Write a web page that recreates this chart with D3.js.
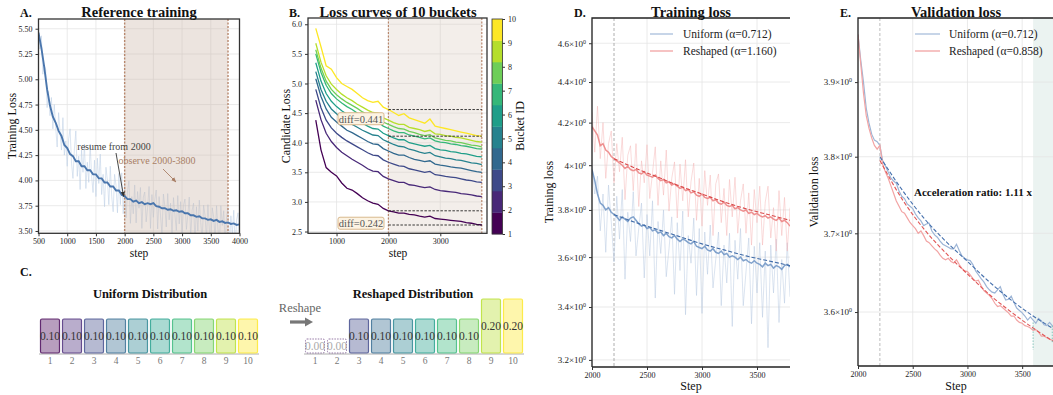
<!DOCTYPE html>
<html><head><meta charset="utf-8">
<script src="https://cdn.jsdelivr.net/npm/d3@7"></script>
<style>body{margin:0;background:#fff}svg{font-family:"Liberation Serif","Times New Roman",serif}</style>
</head><body><svg id="c" width="1053" height="395"></svg>
<script>
// ---------- DATA ----------
// Panel A: reference training
const aSteps = d3.range(500, 4001, 50);
const aSmooth = [5.46,5.31,5.12,4.90,4.74,4.63,4.57,4.49,4.44,4.35,4.32,4.26,4.24,4.19,4.19,4.14,4.14,4.10,4.10,4.06,4.06,4.02,4.02,3.98,3.98,3.94,3.94,3.90,3.90,3.855,3.845,3.815,3.815,3.79,3.80,3.775,3.785,3.765,3.775,3.765,3.775,3.745,3.74,3.725,3.725,3.71,3.715,3.70,3.705,3.69,3.695,3.675,3.675,3.655,3.655,3.64,3.645,3.625,3.625,3.61,3.615,3.60,3.61,3.59,3.595,3.58,3.585,3.57,3.575,3.56,3.565];
const aRawSteps = d3.range(500, 4001, 25);
const aRaw = [5.51,5.30,5.43,5.05,5.14,5.10,4.72,4.88,4.64,4.82,
4.51,4.75,4.52,4.33,4.67,4.48,4.30,4.62,4.25,4.39,
4.14,4.41,4.51,4.17,4.02,4.31,4.49,4.04,4.24,3.91,
4.30,4.08,4.36,3.92,4.18,3.98,4.36,4.04,3.88,4.20,
3.84,4.22,3.97,4.26,3.86,4.06,3.74,4.13,4.00,3.76,
4.14,3.84,3.69,4.06,3.95,3.68,4.07,3.76,4.075,3.67,
3.965,3.63,3.895,3.995,3.575,3.84,3.67,3.955,3.58,3.89,
3.725,3.93,3.525,3.835,3.885,3.59,3.735,3.94,3.525,3.86,
3.635,3.81,3.905,3.52,3.84,3.65,3.465,3.865,3.745,3.54,
3.87,3.61,3.775,3.46,3.83,3.66,3.505,3.85,3.57,3.79,
3.455,3.755,3.815,3.515,3.655,3.835,3.435,3.705,3.775,3.39,
3.74,3.50,3.805,3.585,3.405,3.755,3.655,3.42,3.76,3.51,
3.365,3.73,3.64,3.425,3.75,3.52,3.37,3.75,3.555,3.70,
3.38,3.64,3.735,3.34,3.65,3.47,3.705,3.35,3.61,3.68,
3.415];
const aWindow = [2000, 3800];
const aTexts = ["resume from 2000", "observe 2000-3800"];

// Panel B: loss curves of 10 buckets
const bSteps = d3.range(600, 3801, 100);
const bucketIds = [1,2,3,4,5,6,7,8,9,10];
const b1 = [4.38,3.88,3.58,3.50,3.44,3.32,3.23,3.20,3.14,3.07,3.02,2.98,2.96,2.89,2.85,2.83,2.81,2.81,2.79,2.78,2.76,2.745,2.76,2.72,2.71,2.70,2.69,2.68,2.67,2.65,2.64,2.62,2.61];
const b2 = [4.72,4.39,4.16,4.02,3.92,3.84,3.78,3.72,3.67,3.62,3.56,3.52,3.51,3.43,3.39,3.36,3.33,3.33,3.29,3.28,3.26,3.24,3.255,3.21,3.19,3.18,3.17,3.16,3.14,3.13,3.12,3.10,3.09];
const b3 = [4.90,4.59,4.38,4.25,4.16,4.09,4.03,3.98,3.93,3.88,3.83,3.79,3.78,3.71,3.67,3.64,3.61,3.60,3.56,3.54,3.52,3.50,3.515,3.46,3.45,3.43,3.42,3.41,3.39,3.37,3.36,3.34,3.33];
const b4 = [5.08,4.78,4.57,4.43,4.35,4.28,4.21,4.17,4.12,4.07,4.02,3.98,3.97,3.90,3.86,3.82,3.79,3.79,3.75,3.72,3.70,3.68,3.695,3.64,3.62,3.61,3.59,3.58,3.57,3.55,3.53,3.51,3.50];
const b5 = [5.20,4.90,4.70,4.57,4.49,4.41,4.36,4.31,4.26,4.21,4.17,4.13,4.12,4.05,4.01,3.97,3.94,3.93,3.89,3.87,3.84,3.82,3.835,3.78,3.76,3.74,3.73,3.71,3.70,3.68,3.66,3.65,3.63];
const b6 = [5.35,5.04,4.83,4.70,4.61,4.54,4.48,4.43,4.38,4.33,4.28,4.24,4.23,4.16,4.12,4.08,4.05,4.05,4.00,3.98,3.96,3.94,3.955,3.90,3.88,3.87,3.85,3.84,3.82,3.81,3.79,3.77,3.76];
const b7 = [5.50,5.19,4.97,4.83,4.74,4.67,4.61,4.56,4.50,4.45,4.40,4.37,4.35,4.28,4.24,4.20,4.17,4.17,4.13,4.11,4.09,4.065,4.08,4.03,4.01,4.00,3.98,3.97,3.95,3.94,3.92,3.90,3.89];
const b8 = [5.57,5.26,5.04,4.90,4.81,4.74,4.68,4.63,4.58,4.52,4.47,4.44,4.42,4.35,4.31,4.27,4.24,4.23,4.19,4.17,4.14,4.12,4.135,4.08,4.06,4.04,4.03,4.01,4.00,3.98,3.96,3.95,3.93];
const b9 = [5.68,5.36,5.13,4.99,4.90,4.82,4.76,4.71,4.65,4.60,4.55,4.51,4.50,4.42,4.38,4.34,4.31,4.31,4.26,4.24,4.22,4.19,4.21,4.15,4.14,4.12,4.11,4.09,4.08,4.06,4.04,4.02,4.01];
const b10 = [5.93,5.62,5.30,5.24,5.10,5.00,4.95,4.90,4.83,4.76,4.71,4.68,4.70,4.60,4.56,4.51,4.46,4.49,4.42,4.39,4.36,4.33,4.40,4.28,4.26,4.24,4.22,4.20,4.18,4.16,4.14,4.12,4.11];
const bDiffLabels = ["diff=0.441", "diff=0.242"];

// Panel C: distributions
const cBuckets = ["1","2","3","4","5","6","7","8","9","10"];
const uniformDist = [0.10,0.10,0.10,0.10,0.10,0.10,0.10,0.10,0.10,0.10];
const reshapedDist = [0.00,0.00,0.10,0.10,0.10,0.10,0.10,0.10,0.20,0.20];

// Panel D: training loss
const dSteps = d3.range(2000, 3801, 25);
const uRawD = [4.00,3.87,3.95,3.71,3.87,3.62,3.91,3.75,
3.58,3.86,3.675,3.89,3.51,3.79,3.665,3.88,
3.605,3.72,3.83,3.515,3.78,3.605,3.84,3.435,
3.75,3.615,3.80,3.52,3.635,3.77,3.45,3.745,
3.545,3.795,3.37,3.69,3.575,3.765,3.445,3.72,
3.375,3.705,3.53,3.735,3.475,3.59,3.705,3.405,
3.65,3.495,3.70,3.325,3.67,3.51,3.72,3.405,
3.54,3.68,3.335,3.645,3.455,3.66,3.36,3.625,
3.245,3.65,3.455,3.675,3.34,3.59,3.415,3.66,
3.44];
const uSmD = [3.98,3.93,3.87,3.83,3.82,3.80,3.81,3.79,
3.78,3.77,3.755,3.77,3.76,3.75,3.765,3.77,
3.755,3.74,3.73,3.735,3.72,3.725,3.71,3.715,
3.70,3.705,3.69,3.70,3.685,3.68,3.69,3.675,
3.665,3.675,3.67,3.66,3.655,3.665,3.645,3.64,
3.635,3.645,3.63,3.625,3.635,3.62,3.615,3.625,
3.61,3.615,3.60,3.605,3.60,3.59,3.60,3.585,
3.59,3.58,3.575,3.585,3.575,3.57,3.56,3.575,
3.565,3.57,3.555,3.565,3.56,3.55,3.565,3.57,
3.56];
const rRawD = [4.25,4.06,4.28,4.03,4.20,3.94,4.10,4.16,
3.92,4.10,3.97,4.13,3.845,4.045,4.09,3.885,
4.10,3.815,4.02,3.92,4.095,3.85,3.965,4.085,
3.82,4.02,3.865,4.07,3.795,3.94,4.015,3.765,
4.005,3.84,4.025,3.77,3.925,4.01,3.755,3.94,
3.73,3.975,3.82,3.955,3.69,3.915,3.96,3.745,
3.895,3.69,3.935,3.77,3.945,3.70,3.84,3.915,
3.70,3.875,3.65,3.89,3.745,3.905,3.65,3.835,
3.905,3.68,3.81,3.625,3.885,3.69,3.855,3.625,
3.81];
const rSmD = [4.18,4.16,4.14,4.09,4.10,4.07,4.06,4.04,
4.03,4.02,4.01,4.00,3.985,3.995,3.98,3.975,
3.98,3.965,3.96,3.97,3.955,3.95,3.945,3.955,
3.94,3.93,3.935,3.92,3.925,3.91,3.915,3.905,
3.895,3.90,3.885,3.89,3.875,3.88,3.865,3.86,
3.87,3.855,3.85,3.855,3.84,3.845,3.83,3.825,
3.835,3.82,3.815,3.82,3.805,3.81,3.80,3.795,
3.80,3.785,3.79,3.78,3.785,3.775,3.77,3.775,
3.765,3.77,3.76,3.755,3.765,3.75,3.755,3.745,
3.73];
const fitSteps = [2200,2400,2600,2800,3000,3200,3400,3600,3800];
const uFitD = [3.78,3.745,3.715,3.685,3.655,3.63,3.605,3.585,3.565];
const rFitD = [4.03,3.985,3.945,3.905,3.87,3.835,3.805,3.78,3.755];
const legendD = ["Uniform (α=0.712)", "Reshaped (α=1.160)"];

// Panel E: validation loss
const uValE = [3.965,3.93,3.90,3.865,3.845,3.83,3.822,3.82,
3.815,3.795,3.788,3.78,3.772,3.768,3.765,3.755,
3.748,3.745,3.738,3.735,3.732,3.725,3.72,3.716,
3.71,3.712,3.713,3.703,3.698,3.695,3.69,3.686,
3.684,3.682,3.68,3.68,3.686,3.678,3.671,3.668,
3.666,3.665,3.66,3.652,3.647,3.642,3.638,3.632,
3.628,3.625,3.624,3.628,3.632,3.622,3.615,3.616,
3.62,3.612,3.605,3.602,3.599,3.595,3.59,3.594,
3.59,3.586,3.592,3.589,3.584,3.583,3.587,3.583,
3.578];
const rValE = [3.965,3.925,3.885,3.855,3.838,3.825,3.815,3.81,
3.815,3.79,3.78,3.772,3.762,3.752,3.742,3.735,
3.728,3.726,3.72,3.714,3.71,3.706,3.70,3.703,
3.697,3.69,3.688,3.684,3.68,3.677,3.672,3.668,
3.666,3.668,3.664,3.662,3.666,3.66,3.655,3.652,
3.651,3.647,3.642,3.639,3.64,3.633,3.627,3.624,
3.621,3.617,3.611,3.607,3.608,3.605,3.602,3.599,
3.595,3.595,3.59,3.587,3.586,3.583,3.582,3.58,
3.577,3.578,3.575,3.57,3.57,3.568,3.566,3.565,
3.562];
const uFitE = [3.80,3.757,3.72,3.69,3.664,3.638,3.615,3.595,3.578];
const rFitE = [3.795,3.745,3.706,3.675,3.648,3.622,3.60,3.58,3.562];
const legendE = ["Uniform (α=0.712)", "Reshaped (α=0.858)"];
const accelText = "Acceleration ratio: 1.11 x";

// ---------- DRAWING ----------
const svg = d3.select("#c");
const defs = svg.append("defs");
function arrowMarker(id, color) {
  defs.append("marker").attr("id", id).attr("viewBox", "0 0 10 10").attr("refX", 9).attr("refY", 5)
    .attr("markerWidth", 6).attr("markerHeight", 6).attr("orient", "auto")
    .append("path").attr("d", "M0,1 L10,5 L0,9 z").attr("fill", color);
}
arrowMarker("arrK", "#333");
arrowMarker("arrB", "#a97f66");
function clip(id, x0, y0, x1, y1) {
  defs.append("clipPath").attr("id", id).append("rect").attr("x", x0).attr("y", y0).attr("width", x1 - x0).attr("height", y1 - y0);
}
function gridLines(xs, ys, xv, yv) {
  const [x0, x1] = xs.range(), [yb, yt] = ys.range();
  const g = svg.append("g").attr("stroke", "#e4e4e4").attr("stroke-width", 0.8);
  xv.forEach(v => g.append("line").attr("x1", xs(v)).attr("x2", xs(v)).attr("y1", yb).attr("y2", yt));
  yv.forEach(v => g.append("line").attr("y1", ys(v)).attr("y2", ys(v)).attr("x1", x0).attr("x2", x1));
}
function styleAxis(g, fs) {
  g.select(".domain").remove();
  g.selectAll("text").attr("font-size", fs).attr("fill", "#222").attr("font-family", '"Liberation Serif",serif');
  g.selectAll("line").attr("stroke", "#333");
  return g;
}
function text(x, y, s, opts = {}) {
  const t = svg.append("text").attr("x", x).attr("y", y).text(s)
    .attr("font-size", opts.size || 12).attr("fill", opts.fill || "#111")
    .attr("text-anchor", opts.anchor || "middle").attr("font-weight", opts.weight || "normal");
  if (opts.rotate) t.attr("transform", `rotate(${opts.rotate},${x},${y})`);
  return t;
}
const lineGen = (xs, ys, steps) => d3.line().x((d, i) => xs(steps[i])).y(d => ys(d));
const bottomAxis = (xs, vals) => d3.axisBottom(xs).tickValues(vals).tickSize(3).tickPadding(2).tickFormat(d3.format("d"));

// ===== Panel A =====
const xA = d3.scaleLinear().domain([500, 4000]).range([38.5, 239.5]);
const yA = d3.scaleLinear().domain([3.477, 5.596]).range([233.3, 19]);
gridLines(xA, yA, d3.range(500, 4001, 500), d3.range(3.5, 5.51, 0.25));
clip("clipA", 38.5, 19, 239.5, 233.3);
const gA = svg.append("g").attr("clip-path", "url(#clipA)");
gA.append("path").attr("d", lineGen(xA, yA, aRawSteps)(aRaw)).attr("fill", "none").attr("stroke", "#bccfe5").attr("stroke-width", 0.9).attr("opacity", 0.6);
gA.append("rect").attr("x", xA(aWindow[0])).attr("width", xA(aWindow[1]) - xA(aWindow[0])).attr("y", 19).attr("height", 214.3)
  .attr("fill", "#c9b5a5").attr("opacity", 0.36);
aWindow.forEach(v => gA.append("line").attr("x1", xA(v)).attr("x2", xA(v)).attr("y1", 19).attr("y2", 233.3)
  .attr("stroke", "#b8876c").attr("stroke-width", 1.4).attr("stroke-dasharray", "2,1.5"));
gA.append("path").attr("d", lineGen(xA, yA, aSteps)(aSmooth)).attr("fill", "none").attr("stroke", "#4a76ad").attr("stroke-width", 1.9);
svg.append("rect").attr("x", 38.5).attr("y", 19).attr("width", 201).attr("height", 214.3).attr("fill", "none").attr("stroke", "#333").attr("stroke-width", 1.3);
styleAxis(svg.append("g").attr("transform", "translate(0,233.3)").call(bottomAxis(xA, d3.range(500, 4001, 500))), 8);
styleAxis(svg.append("g").attr("transform", "translate(38.5,0)").call(d3.axisLeft(yA).tickValues(d3.range(3.5, 5.51, 0.25)).tickSize(3).tickFormat(d3.format(".2f"))), 8);
text(20, 17, "A.", { size: 12, weight: "bold", anchor: "start" });
text(139, 17, "Reference training", { size: 14.5, weight: "bold" });
text(139, 257, "step", { size: 11.5 });
text(16, 126, "Training Loss", { size: 12, rotate: -90 });
text(114, 150, aTexts[0], { size: 10, fill: "#444" });
svg.append("line").attr("x1", 116).attr("y1", 153).attr("x2", xA(2000) - 1).attr("y2", yA(3.84)).attr("stroke", "#333").attr("stroke-width", 0.9).attr("marker-end", "url(#arrK)");
text(157, 164, aTexts[1], { size: 10, fill: "#a97f66" });
svg.append("line").attr("x1", 163).attr("y1", 169).attr("x2", 176).attr("y2", 182).attr("stroke", "#a97f66").attr("stroke-width", 0.9).attr("marker-end", "url(#arrB)");

// ===== Panel B =====
const xB = d3.scaleLinear().domain([450, 3900]).range([308, 487]);
const yB = d3.scaleLinear().domain([2.47, 6.106]).range([233.3, 18]);
gridLines(xB, yB, [1000, 2000, 3000], d3.range(2.5, 6.01, 0.5));
clip("clipB", 308, 18, 487, 233.3);
const gB = svg.append("g").attr("clip-path", "url(#clipB)");
gB.append("rect").attr("x", xB(2000)).attr("width", xB(3800) - xB(2000)).attr("y", 18).attr("height", 215.3).attr("fill", "#d8c8b8").attr("opacity", 0.3);
[2000, 3800].forEach(v => gB.append("line").attr("x1", xB(v)).attr("x2", xB(v)).attr("y1", 18).attr("y2", 233.3)
  .attr("stroke", "#b8876c").attr("stroke-width", 1.2).attr("stroke-dasharray", "2,1.5"));
const bSeries = [b1, b2, b3, b4, b5, b6, b7, b8, b9, b10];
const vcol = i => d3.interpolateViridis(i / 9);
bSeries.forEach((s, i) => gB.append("path").attr("d", lineGen(xB, yB, bSteps)(s)).attr("fill", "none").attr("stroke", vcol(i)).attr("stroke-width", 1.3));
[b10, b1].forEach(s => {
  const v0 = s[bSteps.indexOf(2000)], v1 = s[s.length - 1];
  [v0, v1].forEach(v => gB.append("line").attr("x1", xB(2000)).attr("x2", xB(3800)).attr("y1", yB(v)).attr("y2", yB(v))
    .attr("stroke", "#222").attr("stroke-width", 0.9).attr("stroke-dasharray", "2.5,1.5"));
});
svg.append("rect").attr("x", 308).attr("y", 18).attr("width", 179).attr("height", 215.3).attr("fill", "none").attr("stroke", "#333").attr("stroke-width", 1.3);
styleAxis(svg.append("g").attr("transform", "translate(0,233.3)").call(bottomAxis(xB, [1000, 2000, 3000])), 8);
styleAxis(svg.append("g").attr("transform", "translate(308,0)").call(d3.axisLeft(yB).tickValues(d3.range(2.5, 6.01, 0.5)).tickSize(3).tickFormat(d3.format(".1f"))), 8);
[[bDiffLabels[0], (b10[bSteps.indexOf(2000)] + b10[b10.length - 1]) / 2 + 0.07], [bDiffLabels[1], (b1[bSteps.indexOf(2000)] + b1[b1.length - 1]) / 2 - 0.09]].forEach(([lab, v]) => {
  const cy = yB(v);
  svg.append("rect").attr("x", 338).attr("y", cy - 6).attr("width", 46).attr("height", 12).attr("rx", 2)
    .attr("fill", "#fcf3e3").attr("stroke", "#d9b98e").attr("stroke-width", 1);
  text(361, cy + 3.8, lab, { size: 10.5, fill: "#555" });
});
const yCb = d3.scaleLinear().domain([1, 10]).range([234, 19]);
const bandH = (234 - 19) / 10;
bucketIds.forEach((b, i) => svg.append("rect").attr("x", 492).attr("width", 10.5).attr("y", 234 - (i + 1) * bandH).attr("height", bandH + 0.3).attr("fill", vcol(i)));
svg.append("rect").attr("x", 492).attr("y", 19).attr("width", 10.5).attr("height", 215).attr("fill", "none").attr("stroke", "#333").attr("stroke-width", 0.8);
styleAxis(svg.append("g").attr("transform", "translate(502.5,0)").call(d3.axisRight(yCb).tickValues(bucketIds).tickSize(2.5).tickFormat(d3.format("d"))), 8);
text(524, 126, "Bucket ID", { size: 12, rotate: -90 });
text(289, 17, "B.", { size: 12, weight: "bold", anchor: "start" });
text(398, 17, "Loss curves of 10 buckets", { size: 14.5, weight: "bold" });
text(398, 257, "step", { size: 11.5 });
text(290, 126, "Candidate Loss", { size: 12, rotate: -90 });

// ===== Panel C =====
text(20, 276, "C.", { size: 12, weight: "bold", anchor: "start" });
const hC = d3.scaleLinear().domain([0, 0.2]).range([339, 299]);
const baseC = 353;
function distPanel(vals, x0, x1, title, tx) {
  const xs = d3.scaleBand().domain(cBuckets).range([x0, x1]).paddingInner(0.136).paddingOuter(0.068);
  text(tx, 298, title, { size: 12.5, weight: "bold" });
  svg.append("line").attr("x1", x0).attr("x2", x1).attr("y1", baseC + 1).attr("y2", baseC + 1).attr("stroke", "#c8c8c8").attr("stroke-width", 1.5);
  vals.forEach((v, i) => {
    const x = xs(cBuckets[i]), w = xs.bandwidth(), y = hC(v);
    if (v === 0) {
      svg.append("rect").attr("x", x).attr("y", y).attr("width", w).attr("height", baseC - y).attr("rx", 1.5)
        .attr("fill", "#fff").attr("stroke", "#8a6a9c").attr("stroke-width", 0.9).attr("stroke-dasharray", "1.5,1.2");
      text(x + w / 2, (y + baseC) / 2 + 4, d3.format(".2f")(v), { size: 11.5, fill: "#aaa" });
    } else {
      const c = vcol(i);
      svg.append("rect").attr("x", x).attr("y", y).attr("width", w).attr("height", baseC - y).attr("rx", 1.5)
        .attr("fill", c).attr("fill-opacity", 0.38).attr("stroke", c).attr("stroke-opacity", 0.8).attr("stroke-width", 1.2);
      text(x + w / 2, (y + baseC) / 2 + 4, d3.format(".2f")(v), { size: 11.5, fill: "#333" });
    }
    text(x + w / 2, 364, cBuckets[i], { size: 9.5, fill: "#777" });
  });
}
distPanel(uniformDist, 39, 259, "Uniform Distribution", 150);
distPanel(reshapedDist, 304, 524, "Reshaped Distribution", 413);
text(300, 312, "Reshape", { size: 12.5, fill: "#666" });
svg.append("line").attr("x1", 290).attr("x2", 306).attr("y1", 322).attr("y2", 322).attr("stroke", "#777").attr("stroke-width", 3.2);
svg.append("path").attr("d", "M305,317.5 L313,322 L305,326.5 Z").attr("fill", "#777");

// ===== log tick formatter =====
function logTicks(g) {
  g.selectAll(".tick text").each(function (d) {
    const t = d3.select(this); t.text(null);
    t.append("tspan").text((Math.abs(d - 4) < 1e-9 ? "4" : d3.format(".1f")(d)) + "×10");
    t.append("tspan").attr("dy", "-0.5em").attr("font-size", "6px").text("0");
  });
}

// ===== Panel D =====
const xD = d3.scaleLinear().domain([2000, 3800]).range([592, 790]);
const yD = d3.scaleLog().domain([3.174, 4.735]).range([367, 18]);
const dTicks = [3.2, 3.4, 3.6, 3.8, 4.0, 4.2, 4.4, 4.6];
gridLines(xD, yD, [2000, 2500, 3000, 3500], dTicks);
clip("clipD", 592, 18, 790, 367);
const gD = svg.append("g").attr("clip-path", "url(#clipD)");
gD.append("line").attr("x1", xD(2200)).attr("x2", xD(2200)).attr("y1", 18).attr("y2", 367).attr("stroke", "#999").attr("stroke-width", 0.8).attr("stroke-dasharray", "3,2");
gD.append("path").attr("d", lineGen(xD, yD, dSteps)(uRawD)).attr("fill", "none").attr("stroke", "#b5c8e0").attr("stroke-width", 0.9).attr("opacity", 0.55);
gD.append("path").attr("d", lineGen(xD, yD, dSteps)(rRawD)).attr("fill", "none").attr("stroke", "#f5b5b5").attr("stroke-width", 0.9).attr("opacity", 0.55);
gD.append("path").attr("d", lineGen(xD, yD, dSteps)(uSmD)).attr("fill", "none").attr("stroke", "#7398c6").attr("stroke-width", 1.5).attr("opacity", 0.9);
gD.append("path").attr("d", lineGen(xD, yD, dSteps)(rSmD)).attr("fill", "none").attr("stroke", "#ec8585").attr("stroke-width", 1.5).attr("opacity", 0.9);
const fitLine = (xs, ys) => d3.line().curve(d3.curveMonotoneX).x((d, i) => xs(fitSteps[i])).y(d => ys(d));
gD.append("path").attr("d", fitLine(xD, yD)(uFitD)).attr("fill", "none").attr("stroke", "#3f6ba8").attr("stroke-width", 1.1).attr("stroke-dasharray", "4,2");
gD.append("path").attr("d", fitLine(xD, yD)(rFitD)).attr("fill", "none").attr("stroke", "#d94848").attr("stroke-width", 1.1).attr("stroke-dasharray", "4,2");
svg.append("path").attr("d", "M592,367 L592,18 L790,18").attr("fill", "none").attr("stroke", "#222").attr("stroke-width", 1.3);
svg.append("line").attr("x1", 592).attr("x2", 790).attr("y1", 367).attr("y2", 367).attr("stroke", "#222").attr("stroke-width", 1.3);
styleAxis(svg.append("g").attr("transform", "translate(0,367)").call(bottomAxis(xD, [2000, 2500, 3000, 3500])), 8);
logTicks(styleAxis(svg.append("g").attr("transform", "translate(592,0)").call(d3.axisLeft(yD).tickValues(dTicks).tickSize(3)), 9));
[["#a9bfdc", legendD[0], 34], ["#f2a3a3", legendD[1], 51]].forEach(([c, s, y]) => {
  svg.append("line").attr("x1", 650).attr("x2", 673).attr("y1", y).attr("y2", y).attr("stroke", c).attr("stroke-width", 1.3);
  text(683, y + 4, s, { size: 11.5, anchor: "start", fill: "#222" });
});
text(574, 17, "D.", { size: 12, weight: "bold", anchor: "start" });
text(691, 17, "Training loss", { size: 14.5, weight: "bold" });
text(691, 390, "Step", { size: 12 });
text(553, 192, "Training loss", { size: 12, rotate: -90 });

// ===== Panel E =====
const xE = d3.scaleLinear().domain([2000, 3800]).range([858, 1055]);
const yE = d3.scaleLog().domain([3.533, 3.988]).range([366, 18]);
const eTicks = [3.6, 3.7, 3.8, 3.9];
clip("clipE", 858, 18, 1055, 366);
const gE0 = svg.append("g").attr("clip-path", "url(#clipE)");
gE0.append("rect").attr("x", xE(3600)).attr("width", xE(3800) - xE(3600)).attr("y", 18).attr("height", 348).attr("fill", "#ebf3f1");
gridLines(xE, yE, [2000, 2500, 3000, 3500], eTicks);
const gE = svg.append("g").attr("clip-path", "url(#clipE)");
gE.append("line").attr("x1", xE(2200)).attr("x2", xE(2200)).attr("y1", 18).attr("y2", 366).attr("stroke", "#aaa").attr("stroke-width", 0.8).attr("stroke-dasharray", "3,2");
gE.append("path").attr("d", lineGen(xE, yE, dSteps)(uValE)).attr("fill", "none").attr("stroke", "#9db5d6").attr("stroke-width", 1.2);
gE.append("path").attr("d", lineGen(xE, yE, dSteps)(rValE)).attr("fill", "none").attr("stroke", "#f2a4a4").attr("stroke-width", 1.2);
gE.append("path").attr("d", fitLine(xE, yE)(uFitE)).attr("fill", "none").attr("stroke", "#4570ad").attr("stroke-width", 1.1).attr("stroke-dasharray", "4,2");
gE.append("path").attr("d", fitLine(xE, yE)(rFitE)).attr("fill", "none").attr("stroke", "#e05555").attr("stroke-width", 1.1).attr("stroke-dasharray", "4,2");
[[3600, 3.587, 3.553], [3775, 3.583, 3.562]].forEach(([s, a, b]) => gE.append("line").attr("x1", xE(s)).attr("x2", xE(s)).attr("y1", yE(a)).attr("y2", yE(b))
  .attr("stroke", "#86c4bb").attr("stroke-width", 1).attr("stroke-dasharray", "1.5,1.5"));
svg.append("path").attr("d", "M858,366 L858,18 L1053,18").attr("fill", "none").attr("stroke", "#222").attr("stroke-width", 1.3);
svg.append("line").attr("x1", 858).attr("x2", 1053).attr("y1", 366).attr("y2", 366).attr("stroke", "#222").attr("stroke-width", 1.3);
styleAxis(svg.append("g").attr("transform", "translate(0,366)").call(bottomAxis(xE, [2000, 2500, 3000, 3500])), 8);
logTicks(styleAxis(svg.append("g").attr("transform", "translate(858,0)").call(d3.axisLeft(yE).tickValues(eTicks).tickSize(3)), 9));
[["#a9bfdc", legendE[0], 34], ["#f2a3a3", legendE[1], 51]].forEach(([c, s, y]) => {
  svg.append("line").attr("x1", 915).attr("x2", 940).attr("y1", y).attr("y2", y).attr("stroke", c).attr("stroke-width", 1.3);
  text(949, y + 4, s, { size: 11.5, anchor: "start", fill: "#222" });
});
text(914, 196, accelText, { size: 11, weight: "bold", anchor: "start" });
text(840, 17, "E.", { size: 12, weight: "bold", anchor: "start" });
text(956, 17, "Validation loss", { size: 14.5, weight: "bold" });
text(956, 390, "Step", { size: 12 });
text(818, 192, "Validation loss", { size: 12, rotate: -90 });
</script></body></html>
